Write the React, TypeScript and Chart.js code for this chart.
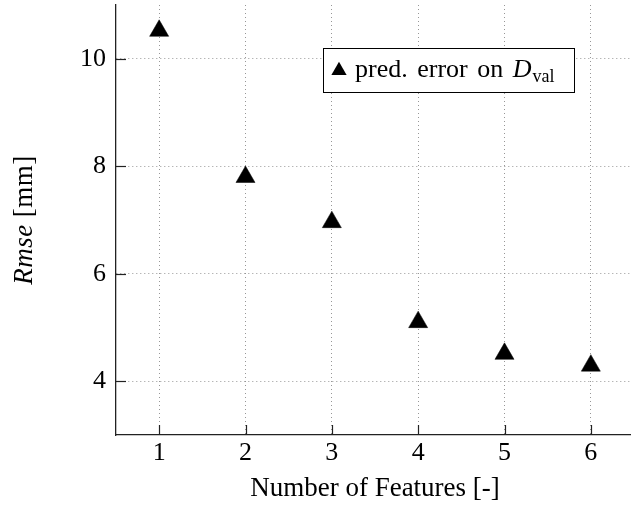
import React, { useEffect, useRef } from "react";
import { Chart, registerables } from "chart.js";

Chart.register(...registerables);

const featureCounts = [1, 2, 3, 4, 5, 6];
const rmseValues = [10.52, 7.8, 6.96, 5.1, 4.51, 4.29];
const xTicks = [1, 2, 3, 4, 5, 6];
const yTicks = [4, 6, 8, 10];
const legendText = "pred. error on ";
const legendSymbol = "D";
const legendSub = "val";
const xTitle = "Number of Features [-]";
const yTitleItalic = "Rmse";
const yTitleUnit = " [mm]";

const FONT = "'Liberation Serif', 'Times New Roman', serif";

const overlayPlugin = {
  id: "overlay",
  afterDraw(chart: any) {
    const { ctx, chartArea } = chart;
    const xs = chart.scales.x;
    const ys = chart.scales.y;
    ctx.save();
    // inner ticks
    ctx.strokeStyle = "#222";
    ctx.lineWidth = 1.2;
    const tl = 10;
    xTicks.forEach((v) => {
      const px = Math.round(xs.getPixelForValue(v)) + 0.5;
      ctx.beginPath();
      ctx.moveTo(px, chartArea.bottom);
      ctx.lineTo(px, chartArea.bottom - tl);
      ctx.stroke();
    });
    yTicks.forEach((v) => {
      const py = Math.round(ys.getPixelForValue(v)) + 0.5;
      ctx.beginPath();
      ctx.moveTo(chartArea.left, py);
      ctx.lineTo(chartArea.left + tl, py);
      ctx.stroke();
    });

    // y axis title
    ctx.fillStyle = "#000";
    ctx.textBaseline = "alphabetic";
    ctx.textAlign = "left";
    const cy = (chartArea.top + chartArea.bottom) / 2;
    const fItal = `italic 27px ${FONT}`;
    const fNorm = `27px ${FONT}`;
    try { (ctx as any).letterSpacing = "0.5px"; } catch (e) {}
    ctx.font = fItal;
    const w1 = ctx.measureText(yTitleItalic).width;
    ctx.font = fNorm;
    const w2 = ctx.measureText(yTitleUnit).width;
    ctx.save();
    ctx.translate(32, cy);
    ctx.rotate(-Math.PI / 2);
    const sx = -(w1 + w2) / 2;
    ctx.font = fItal;
    ctx.fillText(yTitleItalic, sx, 0);
    ctx.font = fNorm;
    ctx.fillText(yTitleUnit, sx + w1, 0);
    ctx.restore();
    try { (ctx as any).letterSpacing = "0px"; } catch (e) {}

    // legend box
    const bx = chartArea.left + 207;
    const by = chartArea.top + 43;
    const bw = 251;
    const bh = 44;
    ctx.fillStyle = "#fff";
    ctx.fillRect(bx, by, bw, bh);
    ctx.strokeStyle = "#000";
    ctx.lineWidth = 1;
    ctx.strokeRect(bx + 0.5, by + 0.5, bw, bh);
    // legend marker
    const mx = bx + 16;
    const my = by + 22.5;
    const r = 8.8;
    ctx.fillStyle = "#000";
    ctx.beginPath();
    for (let i = 0; i < 3; i++) {
      const a = (i * 2 * Math.PI) / 3;
      const px = mx + Math.sin(a) * r;
      const py = my - Math.cos(a) * r;
      if (i === 0) ctx.moveTo(px, py);
      else ctx.lineTo(px, py);
    }
    ctx.closePath();
    ctx.fill();
    // legend text
    const tx = bx + 32;
    const ty = by + 29;
    ctx.font = `26px ${FONT}`;
    try { (ctx as any).wordSpacing = "3px"; } catch (e) {}
    ctx.fillText(legendText, tx, ty);
    const lw = ctx.measureText(legendText).width;
    try { (ctx as any).wordSpacing = "0px"; } catch (e) {}
    ctx.font = `italic 26px ${FONT}`;
    ctx.fillText(legendSymbol, tx + lw, ty);
    const dw = ctx.measureText(legendSymbol).width;
    ctx.font = `18px ${FONT}`;
    ctx.fillText(legendSub, tx + lw + dw + 1, ty + 5);
    ctx.restore();
  },
};

export default function App() {
  const ref = useRef<HTMLCanvasElement | null>(null);
  useEffect(() => {
    if (!ref.current) return;
    const gridOpts = { color: "rgba(140,140,140,0.9)", lineWidth: 1, drawTicks: false };
    const borderOpts = { display: true, color: "#222", width: 1.3, dash: [1, 3] };
    const chart = new Chart(ref.current, {
      type: "scatter",
      data: {
        datasets: [
          {
            label: "pred. error on D_val",
            data: featureCounts.map((x, i) => ({ x, y: rmseValues[i] })),
            pointStyle: "triangle",
            pointRadius: 11,
            pointHoverRadius: 11,
            backgroundColor: "#000",
            borderColor: "#000",
            borderWidth: 0.5,
            showLine: false,
          },
        ],
      },
      options: {
        animation: false,
        responsive: false,
        devicePixelRatio: 1,
        layout: { autoPadding: false, padding: { top: 5, right: 11, left: 0, bottom: 0 } },
        plugins: { legend: { display: false }, tooltip: { enabled: false } },
        scales: {
          x: {
            type: "linear",
            min: 0.5,
            max: 6.5,
            afterBuildTicks: (s: any) => {
              s.ticks = xTicks.map((v) => ({ value: v }));
            },
            afterFit: (s: any) => {
              s.height = 75;
              s.paddingLeft = 0;
              s.paddingRight = 0;
              s.paddingTop = 0;
              s.paddingBottom = 0;
            },
            grid: gridOpts,
            border: borderOpts,
            ticks: {
              font: { family: FONT, size: 26 },
              color: "#000",
              padding: 3,
              maxRotation: 0,
              autoSkip: false,
            },
            title: {
              display: true,
              text: xTitle,
              font: { family: FONT, size: 27 },
              color: "#000",
              padding: { top: 0, bottom: 5 },
            },
          },
          y: {
            type: "linear",
            min: 3,
            max: 11,
            afterBuildTicks: (s: any) => {
              s.ticks = yTicks.map((v) => ({ value: v }));
            },
            afterFit: (s: any) => {
              s.width = 116;
              s.paddingLeft = 0;
              s.paddingRight = 0;
              s.paddingTop = 0;
              s.paddingBottom = 0;
            },
            grid: gridOpts,
            border: borderOpts,
            ticks: {
              font: { family: FONT, size: 26 },
              color: "#000",
              padding: 10,
              autoSkip: false,
            },
          },
        },
      },
      plugins: [overlayPlugin],
    } as any);
    return () => chart.destroy();
  }, []);
  return (
    <div
      style={{
        position: "fixed",
        left: 0,
        top: 0,
        width: 631,
        height: 510,
        overflow: "hidden",
        background: "#fff",
      }}
    >
      <canvas ref={ref} width={645} height={510} style={{ display: "block" }} />
    </div>
  );
}
